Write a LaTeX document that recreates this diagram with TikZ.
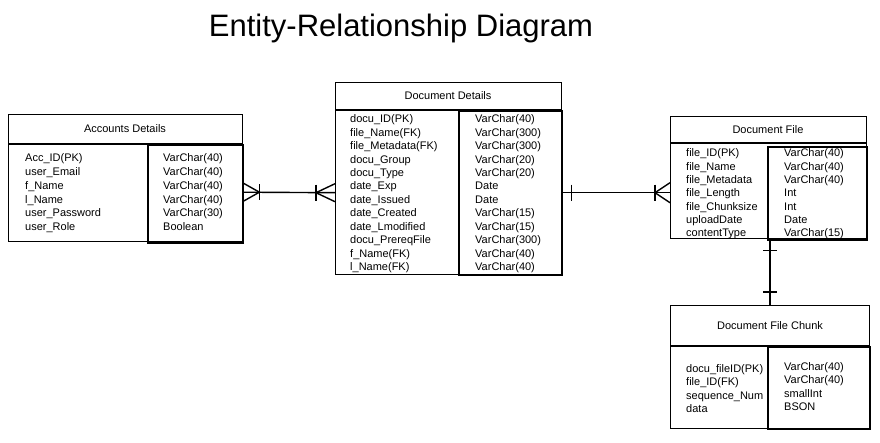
\documentclass[tikz,border=0pt]{standalone}
\usepackage{fontspec}
\setmainfont{Liberation Sans}
\usetikzlibrary{calc}
\begin{document}
\begin{tikzpicture}[x=1pt,y=-1pt,
  tbl/.style={draw, line width=1.4pt, anchor=north west, inner sep=0pt},
  colbox/.style={draw, line width=1.8pt, anchor=north west, inner sep=0pt},
  hdr/.style={font=\fontsize{11}{13}\selectfont},
  rows/.style={anchor=north west, inner sep=0pt, align=left, font=\fontsize{11}{#1}\selectfont},
  conn/.style={line width=1.4pt},
  title/.style={font=\fontsize{31}{36}\selectfont}]
\useasboundingbox (0,0) rectangle (880,443);
\fill[white] (0,0) rectangle (880,443);

\node[title] (ttl) at (401,28) {Entity-Relationship Diagram};

% Accounts Details
\node[tbl, minimum width=234pt, minimum height=127pt] (acc) at (8,114) {};
\draw[line width=1.4pt] (acc.west |- 0,144) -- (acc.east |- 0,144);
\node[hdr] (accH) at (125,129) {Accounts Details};
\node[colbox, minimum width=95pt, minimum height=98pt] (accT) at (147,144) {};
\node[rows=13.8] (accL) at (25,153.5) {Acc\_ID(PK)\\user\_Email\\f\_Name\\l\_Name\\user\_Password\\user\_Role};
\node[rows=13.8] (accR) at (163,153.5) {VarChar(40)\\VarChar(40)\\VarChar(40)\\VarChar(40)\\VarChar(30)\\Boolean};

% Document Details
\node[tbl, minimum width=226pt, minimum height=192pt] (det) at (335,82) {};
\draw[line width=1.4pt] (det.west |- 0,110) -- (det.east |- 0,110);
\node[hdr] (detH) at (448,96) {Document Details};
\node[colbox, minimum width=103pt, minimum height=164pt] (detT) at (458,110) {};
\node[rows=13.45] (detL) at (350,114.5) {docu\_ID(PK)\\file\_Name(FK)\\file\_Metadata(FK)\\docu\_Group\\docu\_Type\\date\_Exp\\date\_Issued\\date\_Created\\date\_Lmodified\\docu\_PrereqFile\\f\_Name(FK)\\l\_Name(FK)};
\node[rows=13.45] (detR) at (475,114.5) {VarChar(40)\\VarChar(300)\\VarChar(300)\\VarChar(20)\\VarChar(20)\\Date\\Date\\VarChar(15)\\VarChar(15)\\VarChar(300)\\VarChar(40)\\VarChar(40)};

% Document File
\node[tbl, minimum width=196pt, minimum height=122pt] (fil) at (670,116) {};
\draw[line width=1.4pt] (fil.west |- 0,143) -- (fil.east |- 0,143);
\node[hdr] (filH) at (768,130) {Document File};
\node[colbox, minimum width=99pt, minimum height=93pt] (filT) at (767,146) {};
\node[rows=13.35] (filL) at (686,148.5) {file\_ID(PK)\\file\_Name\\file\_Metadata\\file\_Length\\file\_Chunksize\\uploadDate\\contentType};
\node[rows=13.35] (filR) at (784,148.5) {VarChar(40)\\VarChar(40)\\VarChar(40)\\Int\\Int\\Date\\VarChar(15)};

% Document File Chunk
\node[tbl, minimum width=199pt, minimum height=123pt] (chk) at (670,305) {};
\draw[line width=1.4pt] (chk.west |- 0,346) -- (chk.east |- 0,346);
\node[hdr] (chkH) at (770,326) {Document File Chunk};
\node[colbox, minimum width=102pt, minimum height=82pt] (chkT) at (767,346) {};
\node[rows=13.2] (chkL) at (686,364.5) {docu\_fileID(PK)\\file\_ID(FK)\\sequence\_Num\\data};
\node[rows=13.2] (chkR) at (784,362.5) {VarChar(40)\\VarChar(40)\\smallInt\\BSON};

% Connector Accounts -- Document Details
\coordinate (a1) at ([yshift=-14pt]acc.east);
\coordinate (d1) at ([yshift=-14pt]det.west);
\draw[conn] (a1) -- (d1);
\draw[conn] ($(a1)+(0,-9)$) -- ($(a1)+(16,0)$) -- ($(a1)+(0,9)$);
\draw[conn] ($(a1)+(16,-8)$) -- ($(a1)+(16,8)$);
\draw[conn] ($(d1)+(0,-9)$) -- ($(d1)+(-19,0)$) -- ($(d1)+(0,9)$);
\draw[conn] ($(d1)+(-19,-8)$) -- ($(d1)+(-19,8)$);

% Connector Document Details -- Document File
\coordinate (d2) at ([yshift=-14pt]det.east);
\coordinate (f1) at ([yshift=-15pt]fil.west);
\draw[conn] (d2) -- (f1);
\draw[conn] ($(d2)+(9,-8)$) -- ($(d2)+(9,8)$);
\draw[conn] ($(f1)+(0,-10)$) -- ($(f1)+(-15,0)$) -- ($(f1)+(0,10)$);
\draw[conn] ($(f1)+(-15,-8)$) -- ($(f1)+(-15,8)$);

% Connector Document File -- Chunk
\coordinate (f2) at ($(fil.south west)+(100,0)$);
\coordinate (c1) at ($(chk.north west)+(100,0)$);
\draw[conn] (f2) -- (c1);
\draw[conn] ($(f2)+(-7,11)$) -- ($(f2)+(7,11)$);
\draw[conn] ($(c1)+(-7,-13)$) -- ($(c1)+(7,-13)$);
\end{tikzpicture}
\end{document}
